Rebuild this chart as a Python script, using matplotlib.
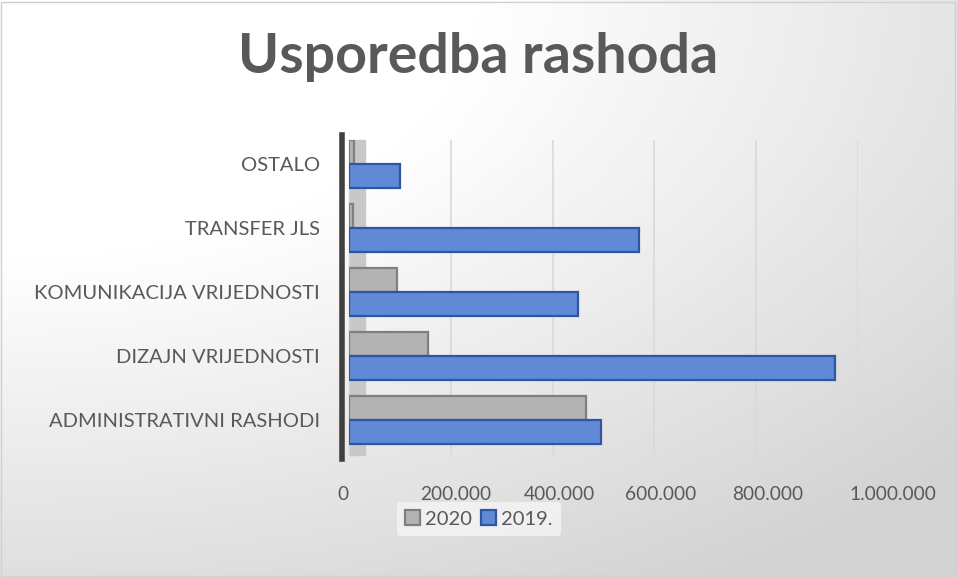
import numpy as np
import matplotlib
matplotlib.use("Agg")
import matplotlib.pyplot as plt
from matplotlib.ticker import FuncFormatter
from matplotlib.patches import Rectangle
from matplotlib.transforms import ScaledTranslation

categories = ["ADMINISTRATIVNI RASHODI", "DIZAJN VRIJEDNOSTI", "KOMUNIKACIJA VRIJEDNOSTI", "TRANSFER JLS", "OSTALO"]
values_2020 = [465000, 155000, 95000, 8000, 10000]
values_2019 = [495000, 955000, 450000, 570000, 100000]
series_names = ["2020", "2019."]
x_ticks = [0, 200000, 400000, 600000, 800000, 1000000]

plt.rcParams['font.family'] = ['Lato', 'DejaVu Sans']
TXT = "#595959"

fig = plt.figure(figsize=(9.57, 5.77), dpi=100)

# background gradient
bg = fig.add_axes([0, 0, 1, 1], zorder=-10)
W, H = 400, 240
xx, yy = np.meshgrid(np.linspace(0, 1, W), np.linspace(0, 1, H))
d = np.sqrt((xx * 0.9) ** 2 + (yy * 1.0) ** 2)
v = 1.0 - 0.17 * np.clip((d - 0.45) / 0.75, 0, 1)
img = np.dstack([v, v, v])
bg.imshow(img, extent=[0, 1, 0, 1], aspect='auto', origin='upper')
bg.add_patch(Rectangle((0.001, 0.002), 0.997, 0.995, fill=False, ec="#d0d0d0", lw=1))
bg.set_xlim(0, 1); bg.set_ylim(0, 1)
bg.axis('off')

fig.text(0.4995, 1 - 57 / 577, "Usporedba rashoda", ha='center', va='center',
         fontsize=40, fontweight='bold', color=TXT)

ax = fig.add_axes([349 / 957, 1 - 455 / 577, (858 - 349) / 957, (455 - 140) / 577])
ax.set_facecolor('none')
y = np.arange(len(categories))
h = 0.375
off = 0.19

# pseudo wall
ax.add_patch(Rectangle((0.0, -0.55), 0.032e6, 4.93, transform=ax.transData,
                       color="#c8c8c8", zorder=1, clip_on=False))

ax.barh(y + off, values_2020, height=h, color="#b3b3b3", edgecolor="#7f7f7f", lw=1.6, zorder=3, label=series_names[0])
ax.barh(y - off, values_2019, height=h, color="#6089d6", edgecolor="#2f55a4", lw=1.6, zorder=3, label=series_names[1])

ax.set_xlim(0, 1000000)
ax.set_ylim(-0.55, 4.375)
ax.set_xticks(x_ticks)
ax.xaxis.set_major_formatter(FuncFormatter(lambda v, p: f"{int(v):,}".replace(",", ".")))
ax.set_yticks(y)
ax.set_yticklabels(categories)
ax.tick_params(axis='y', length=0, labelsize=14.5, colors=TXT, pad=21)
ax.tick_params(axis='x', length=0, labelsize=13.8, colors=TXT, pad=22)
shifts = [-6, 5, 7, 6, 11, 35]
for lab, dx in zip(ax.get_xticklabels(), shifts):
    lab.set_transform(lab.get_transform() + ScaledTranslation(dx / 100, 0, fig.dpi_scale_trans))
ax.grid(axis='x', color="#d9d9d9", lw=1.2, zorder=0)
for s in ax.spines.values():
    s.set_visible(False)
ax.plot([-0.014, -0.014], [-0.62, 4.45], transform=ax.get_yaxis_transform(),
        color="#404040", lw=4, clip_on=False, zorder=4)

leg = fig.legend(loc='center', bbox_to_anchor=(479 / 957, 1 - 519 / 577), ncol=2,
                 frameon=True, fontsize=14.5, handlelength=0.75, handleheight=0.75,
                 handletextpad=0.25, columnspacing=0.45, borderpad=0.4)
leg.get_frame().set_facecolor("#f5f5f5")
leg.get_frame().set_edgecolor("none")
for t in leg.get_texts():
    t.set_color(TXT)

fig.savefig("out.png", dpi=100)
